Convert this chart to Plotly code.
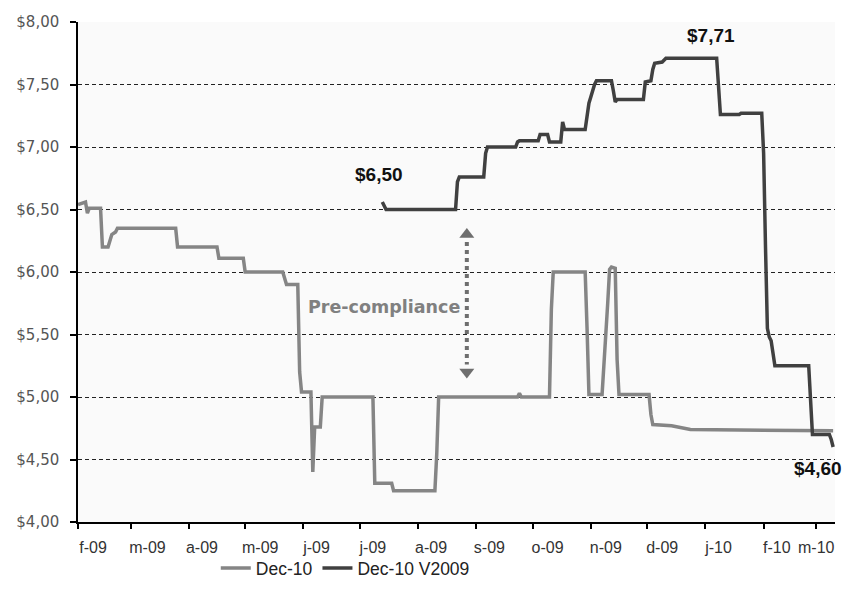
import plotly.graph_objects as go

# ---------------- data ----------------
dec10_dates = [
    "2009-02-01", "2009-02-05", "2009-02-06", "2009-02-07", "2009-02-13", "2009-02-14",
    "2009-02-17", "2009-02-19", "2009-02-21", "2009-02-22", "2009-03-25", "2009-03-26",
    "2009-04-16", "2009-04-17", "2009-04-30", "2009-05-01", "2009-05-21", "2009-05-23",
    "2009-05-29", "2009-05-30", "2009-05-31", "2009-06-05", "2009-06-06", "2009-06-07",
    "2009-06-10", "2009-06-11", "2009-07-08", "2009-07-09", "2009-07-18", "2009-07-19",
    "2009-08-10", "2009-08-11", "2009-08-12", "2009-09-23", "2009-09-24", "2009-09-25",
    "2009-10-10", "2009-10-11", "2009-10-12", "2009-10-29", "2009-10-30", "2009-10-31",
    "2009-11-07", "2009-11-08", "2009-11-09", "2009-11-10", "2009-11-11", "2009-11-12",
    "2009-11-14", "2009-11-15", "2009-11-16", "2009-12-02", "2009-12-03", "2009-12-04",
    "2009-12-14", "2009-12-24", "2010-03-10",
]
dec10_values = [
    6.54, 6.56, 6.47, 6.51, 6.51, 6.20,
    6.20, 6.30, 6.32, 6.35, 6.35, 6.20,
    6.20, 6.11, 6.11, 6.00, 6.00, 5.90,
    5.90, 5.20, 5.04, 5.04, 4.40, 4.76,
    4.76, 5.00, 5.00, 4.31, 4.31, 4.25,
    4.25, 4.55, 5.00, 5.00, 5.03, 5.00,
    5.00, 5.70, 6.00, 6.00, 5.55, 5.02,
    5.02, 5.24, 5.50, 5.75, 6.02, 6.04,
    6.03, 5.30, 5.02, 5.02, 4.86, 4.78,
    4.77, 4.74, 4.73,
]

v2009_dates = [
    "2009-07-13", "2009-07-14", "2009-07-15", "2009-08-21", "2009-08-22", "2009-08-23",
    "2009-09-05", "2009-09-06", "2009-09-07", "2009-09-22", "2009-09-23", "2009-09-24",
    "2009-10-04", "2009-10-05", "2009-10-09", "2009-10-10", "2009-10-16", "2009-10-17",
    "2009-10-18", "2009-10-29", "2009-10-30", "2009-10-31", "2009-11-01", "2009-11-02",
    "2009-11-03", "2009-11-04", "2009-11-12", "2009-11-13", "2009-11-14", "2009-11-15",
    "2009-11-29", "2009-11-30", "2009-12-03", "2009-12-04", "2009-12-05", "2009-12-09",
    "2009-12-10", "2009-12-11", "2010-01-07", "2010-01-08", "2010-01-09", "2010-01-19",
    "2010-01-20", "2010-01-31", "2010-02-01", "2010-02-02", "2010-02-03", "2010-02-04",
    "2010-02-05", "2010-02-06", "2010-02-07", "2010-02-25", "2010-02-26", "2010-02-27",
    "2010-03-08", "2010-03-09", "2010-03-10",
]
v2009_values = [
    6.56, 6.53, 6.50, 6.50, 6.72, 6.76,
    6.76, 6.95, 7.00, 7.00, 7.04, 7.05,
    7.05, 7.10, 7.10, 7.04, 7.04, 7.20,
    7.14, 7.14, 7.27, 7.35, 7.40, 7.46,
    7.50, 7.53, 7.53, 7.45, 7.36, 7.38,
    7.38, 7.52, 7.53, 7.62, 7.67, 7.68,
    7.70, 7.71, 7.71, 7.50, 7.26, 7.26,
    7.27, 7.27, 6.95, 6.20, 5.55, 5.48,
    5.45, 5.35, 5.25, 5.25, 4.90, 4.70,
    4.70, 4.66, 4.60,
]

series_names = ["Dec-10", "Dec-10 V2009"]

month_labels = ["f-09", "m-09", "a-09", "m-09", "j-09", "j-09", "a-09",
                "s-09", "o-09", "n-09", "d-09", "j-10", "f-10", "m-10"]
month_starts = ["2009-02-01", "2009-03-01", "2009-04-01", "2009-05-01", "2009-06-01",
                "2009-07-01", "2009-08-01", "2009-09-01", "2009-10-01", "2009-11-01",
                "2009-12-01", "2010-01-01", "2010-02-01", "2010-03-01"]

y_ticks = [4.0, 4.5, 5.0, 5.5, 6.0, 6.5, 7.0, 7.5, 8.0]
y_labels = ["$4,00", "$4,50", "$5,00", "$5,50", "$6,00", "$6,50", "$7,00", "$7,50", "$8,00"]

callout_texts = ["$6,50", "$7,71", "$4,60"]
callout_dates = ["2009-07-11", "2010-01-04", "2010-03-02"]
callout_values = [6.78, 7.89, 4.43]

note_text = "Pre-compliance"
note_date = "2009-07-14"
note_value = 5.72

arrow_date = "2009-08-27"
arrow_top = 6.24
arrow_bottom = 5.26
arrow_head_top = 6.30
arrow_head_bottom = 5.20

# label positions (a few days after each month tick, last one kept inside)
label_positions = ["2009-02-09", "2009-03-10", "2009-04-08", "2009-05-09", "2009-06-08",
                   "2009-07-08", "2009-08-08", "2009-09-08", "2009-10-09", "2009-11-09",
                   "2009-12-09", "2010-01-08", "2010-02-08", "2010-03-01"]

x_range = ["2009-02-01", "2010-03-11"]

# ---------------- figure ----------------
fig = go.Figure()

fig.add_trace(go.Scatter(
    x=dec10_dates, y=dec10_values, mode="lines", name=series_names[0],
    line=dict(color="#858585", width=3.5),
))
fig.add_trace(go.Scatter(
    x=v2009_dates, y=v2009_values, mode="lines", name=series_names[1],
    line=dict(color="#404040", width=3.5),
))

# dotted double arrow
fig.add_trace(go.Scatter(
    x=[arrow_date, arrow_date], y=[arrow_top, arrow_bottom], mode="lines",
    line=dict(color="#6e6e6e", width=4, dash="dot"), showlegend=False,
    hoverinfo="skip", xaxis="x2",
))
fig.add_trace(go.Scatter(
    x=[arrow_date, arrow_date], y=[arrow_head_top, arrow_head_bottom], mode="markers",
    marker=dict(symbol=["triangle-up", "triangle-down"], size=13, color="#6e6e6e"),
    showlegend=False, hoverinfo="skip", xaxis="x2",
))

for t, d, v in zip(callout_texts, callout_dates, callout_values):
    fig.add_annotation(x=d, y=v, text="<b>%s</b>" % t, showarrow=False,
                       font=dict(family="Liberation Sans, Arial", size=19, color="#111"))

fig.add_annotation(x=note_date, y=note_value, text="<b>%s</b>" % note_text, showarrow=False,
                   font=dict(family="DejaVu Sans", size=17.5, color="#808080"))

fig.update_layout(
    width=843, height=605,
    margin=dict(l=78, r=8, t=22, b=83),
    paper_bgcolor="white",
    plot_bgcolor="#fafafa",
    font=dict(family="DejaVu Sans", color="#444"),
    showlegend=True,
    legend=dict(orientation="h", x=0.182, xanchor="left", y=-0.092, yanchor="middle",
                font=dict(family="Liberation Sans Narrow, Liberation Sans, Arial", size=17.5,
                          color="#222"),
                bgcolor="rgba(0,0,0,0)", itemwidth=30, tracegroupgap=0),
    xaxis=dict(
        type="date", range=x_range, tickmode="array",
        tickvals=label_positions, ticktext=month_labels,
        ticks="", ticklen=0, showgrid=False, zeroline=False,
        showline=True, linecolor="black", linewidth=1.5,
        tickfont=dict(family="Liberation Sans Narrow, Liberation Sans, Arial", size=16,
                      color="#333"),
        ticklabelstandoff=10,
    ),
    xaxis2=dict(
        type="date", range=x_range, overlaying="x", anchor="y", side="bottom",
        tickmode="array", tickvals=month_starts, ticks="outside", ticklen=6,
        tickcolor="black", tickwidth=1.5, showticklabels=False, showgrid=False,
        showline=False, zeroline=False,
    ),
    yaxis=dict(
        range=[4, 8], tickmode="array", tickvals=y_ticks, ticktext=y_labels,
        ticks="outside", ticklen=6, tickcolor="black", tickwidth=1.5,
        showline=True, linecolor="black", linewidth=1.5,
        showgrid=True, gridcolor="#222", gridwidth=1, griddash="4px,3px",
        zeroline=False,
        tickfont=dict(family="DejaVu Sans", size=15, color="#555"),
        ticklabelstandoff=8,
    ),
)

fig.write_html("out.html", config={"displayModeBar": False},
               post_script="document.body.style.margin='0';")
